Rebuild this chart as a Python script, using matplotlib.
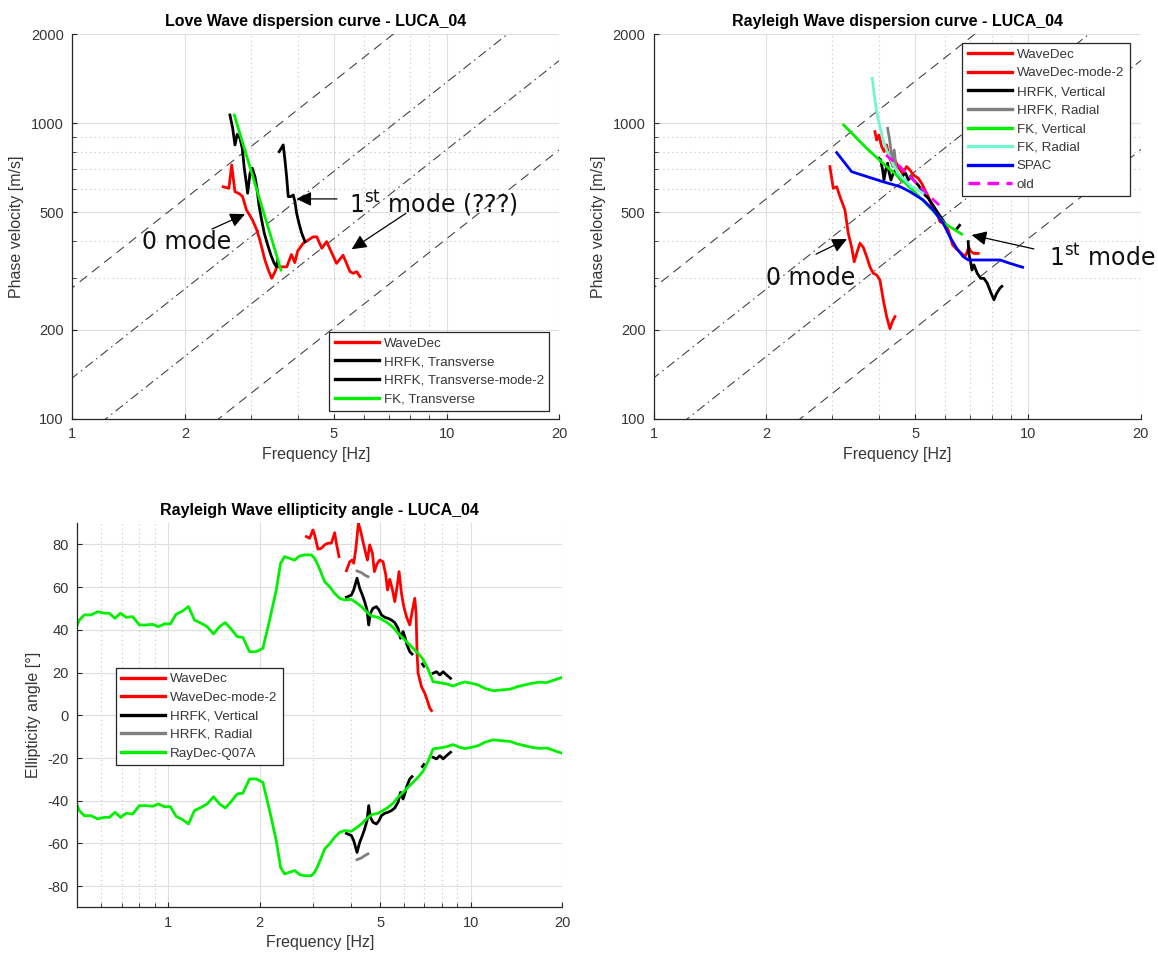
import numpy as np
import matplotlib
matplotlib.use("Agg")
import matplotlib.pyplot as plt
from matplotlib.ticker import FixedLocator, FixedFormatter, NullFormatter, NullLocator

plt.rcParams['font.family'] = ['Liberation Sans', 'DejaVu Sans']
plt.rcParams['mathtext.fontset'] = 'dejavusans'

# ---------------- Love wave dispersion (LUCA_04) ----------------
love_wavedec_f = [2.53, 2.58, 2.62, 2.665, 2.72, 2.80, 2.85, 2.92, 3.03, 3.11, 3.17, 3.27, 3.34,
                  3.41, 3.48, 3.52, 3.74, 3.85, 3.93, 4.00, 4.14, 4.40, 4.50, 4.64, 4.78, 5.08,
                  5.29, 5.52, 5.63, 5.75, 5.87]
love_wavedec_v = [610, 606, 603, 723, 587, 577, 565, 509, 471, 436, 403, 345, 319,
                  299, 315, 327, 327, 360, 338, 370, 393, 413, 413, 378, 398, 336,
                  358, 315, 311, 315, 303]

love_hrfk_f = [2.637, 2.682, 2.720, 2.758, 2.805, 2.845, 2.880, 2.922, 2.941, 2.983, 3.025,
               3.076, 3.114, 3.152, 3.205, 3.257, 3.326, 3.394, 3.463, 3.516, 3.537]
love_hrfk_v = [1067, 962, 845, 918, 890, 823, 705, 618, 580, 677, 705,
               660, 603, 529, 471, 425, 388, 358, 336, 327, 345]

love_hrfk2_f = [3.571, 3.660, 3.699, 3.737, 3.775, 3.831, 3.893, 3.934, 3.975, 4.032, 4.101, 4.184]
love_hrfk2_v = [802, 845, 751, 660, 565, 565, 572, 543, 496, 459, 425, 398]

love_fk_f = [2.709, 2.80, 2.95, 3.10, 3.30, 3.45, 3.609]
love_fk_v = [1067, 928, 745, 605, 465, 386, 319]

# ---------------- Rayleigh wave dispersion (LUCA_04) ----------------
ray_wavedec_f = [2.954, 3.016, 3.080, 3.143, 3.241, 3.307, 3.377, 3.431, 3.483, 3.554, 3.627,
                 3.704, 3.780, 3.857, 3.938, 4.019, 4.102, 4.188, 4.274, 4.335, 4.408]
ray_wavedec_v = [714, 603, 610, 565, 509, 425, 381, 340, 363, 393, 381,
                 354, 327, 311, 307, 295, 253, 222, 202, 213, 222]

ray_wavedec2_f = [3.897, 3.938, 3.995, 4.062, 4.126, 4.188, 4.248, 4.319, 4.408, 4.498, 4.611,
                  4.737, 4.835, 4.934, 5.087, 5.195, 5.301, 5.41, 5.524, 5.637, 5.753, 5.813,
                  5.933, 6.118, 6.209, 6.285, 6.442, 6.643, 6.779, 6.876, 6.94, 7.034, 7.165, 7.359]
ray_wavedec2_v = [937, 878, 913, 834, 802, 845, 771, 733, 751, 714, 677,
                  714, 695, 669, 652, 627, 595, 565, 529, 509, 483, 465,
                  459, 436, 408, 388, 375, 363, 354, 368, 381, 368, 363, 363]

ray_hrfk_v_f = [3.995, 4.037, 4.087, 4.12, 4.163, 4.214, 4.248, 4.3, 4.362, 4.427, 4.498, 4.574,
                4.638, 4.709, 4.785, 4.864, 4.943, 5.087, 5.195, 5.301, 5.41, 5.524, 5.637, 5.753,
                5.875, 5.995, np.nan, 6.45, 6.56, np.nan, 6.918, 6.94, 7.021, 7.078, 7.165, 7.311,
                7.466, 7.619, 7.776, 7.94, 8.104, 8.24, 8.41, 8.51]
ray_hrfk_v_v = [761, 751, 695, 643, 695, 733, 686, 643, 677, 695, 660, 643,
                669, 677, 643, 660, 643, 618, 595, 572, 558, 537, 516, 496,
                477, 459, np.nan, 440, 452, np.nan, 398, 363, 340, 319, 332, 311,
                299, 299, 288, 269, 253, 266, 277, 281]

ray_hrfk_r_f = [4.214, 4.266, 4.319, 4.353, 4.388, 4.435, 4.498, 4.611]
ray_hrfk_r_v = [962, 878, 781, 714, 812, 714, 660, 634]

ray_fk_v_f = [3.216, 3.704, 4.188, 4.546, 5.037, 5.579, 5.97, 6.643]
ray_fk_v_v = [987, 823, 714, 653, 577, 505, 459, 422]

ray_fk_r_f = [3.833, 3.897, 3.963, 4.019, 4.102, 4.188, 4.319, 4.498, 4.688, 4.886, 4.985, 5.246]
ray_fk_r_v = [1420, 1199, 1053, 974, 878, 812, 742, 677, 643, 610, 603, 580]

ray_spac_f = [3.08, 3.377, 4.102, 4.546, 4.835, 5.246, 5.579, 5.933, 6.181, 6.442, 6.709,
              6.918, 8.41, 8.942, 9.667]
ray_spac_v = [796, 686, 634, 611, 587, 550, 509, 459, 413, 378, 354, 345, 345, 336, 326]

ray_old_f = [4.171, 4.546, 4.934, 5.356, 5.933]
ray_old_v = [781, 714, 643, 580, 513]

# constant-wavelength guide lines [m]
guide_wavelengths = [278, 137.7, 81.5, 40.7]
guide_styles = ['dash', 'dashdot', 'dashdot', 'dash']

# ---------------- Rayleigh wave ellipticity angle (LUCA_04) ----------------
raydec_f = [0.50, 0.508, 0.527, 0.555, 0.584, 0.614, 0.638, 0.666, 0.694, 0.725, 0.762, 0.802,
            0.844, 0.887, 0.927, 0.970, 1.015, 1.060, 1.115, 1.165, 1.219, 1.283, 1.343, 1.409,
            1.475, 1.540, 1.612, 1.688, 1.761, 1.853, 1.950, 2.051, 2.159, 2.271, 2.347, 2.419,
            2.513, 2.611, 2.713, 2.818, 2.965, 3.041, 3.118, 3.200, 3.281, 3.408, 3.541, 3.678,
            3.821, 4.020, 4.177, 4.339, 4.508, 4.683, 4.924, 5.115, 5.314, 5.521, 5.734, 5.957,
            6.188, 6.429, 6.679, 6.938, 7.207, 7.487, 7.879, 8.291, 8.718, 9.176, 9.532, 10.03,
            10.55, 11.10, 11.83, 12.61, 13.43, 14.19, 15.01, 15.88, 16.79, 17.76, 18.79, 20.0]
raydec_deg = [42.3, 44.6, 47.0, 47.0, 48.5, 47.8, 47.8, 45.4, 47.8, 45.9, 46.2, 42.3,
              42.3, 42.6, 41.5, 42.8, 42.8, 47.3, 48.9, 50.9, 44.6, 43.1, 41.5, 38.1,
              41.5, 43.4, 40.4, 36.8, 36.5, 29.8, 29.8, 31.4, 44.6, 58.7, 71.2, 74.3,
              73.5, 72.7, 74.6, 75.1, 75.1, 73.5, 70.4, 66.5, 62.6, 60.2, 57.1, 54.8,
              54.0, 54.3, 52.7, 50.9, 48.5, 46.5, 45.9, 44.6, 43.1, 41.2, 38.4, 36.1,
              33.7, 31.4, 29.0, 26.2, 21.5, 15.7, 15.3, 14.7, 13.7, 15.0, 15.6, 15.0,
              14.2, 12.6, 11.5, 11.9, 12.2, 13.4, 14.2, 15.0, 15.5, 15.3, 16.5, 17.8]

ell_hrfk_v_f = [3.871, 4.020, 4.093, 4.197, 4.283, 4.372, 4.449, 4.529, 4.587, 4.647, 4.740,
                4.865, 4.962, 5.053, 5.182, 5.314, 5.454, 5.593, 5.734, 5.841, 5.957, 6.035,
                6.141, 6.268, 6.379, np.nan, 6.90, 6.98, np.nan, 7.487, 7.684, 7.879, 8.08,
                8.291, 8.55]
ell_hrfk_v_deg = [55.3, 56.3, 58.7, 64.2, 59.5, 56.3, 53.2, 49.3, 42.3, 47.8, 50.1,
                  50.9, 49.3, 47.0, 45.9, 45.4, 44.6, 43.4, 40.7, 36.1, 39.2, 36.8,
                  32.9, 29.8, 28.7, np.nan, 24.0, 23.0, np.nan, 19.7, 20.4, 18.9, 20.4,
                  18.9, 17.3]

ell_hrfk_r_f = [4.197, 4.339, 4.449, 4.562]
ell_hrfk_r_deg = [67.6, 66.8, 65.7, 64.9]

ell_wavedec_f = [2.855, 2.927, 3.001, 3.041, 3.118, 3.200, 3.281, 3.365, 3.453, 3.541, 3.587, 3.659]
ell_wavedec_deg = [83.7, 82.9, 86.8, 84.4, 77.8, 78.2, 79.8, 80.6, 80.6, 85.5, 80.6, 74.3]

ell_wavedec2_f = [3.871, 3.970, 4.04, 4.093, 4.156, 4.241, 4.306, 4.392, 4.484, 4.542, 4.622,
                  4.718, 4.790, 4.887, 4.989, 5.115, 5.224, 5.292, 5.385, 5.496, 5.593, 5.691,
                  5.779, 5.886, 5.990, 6.113, 6.268, 6.399, 6.512, 6.577, 6.627, 6.679, 6.853,
                  7.027, 7.153, 7.302, 7.396]
ell_wavedec2_deg = [67.7, 71.9, 72.7, 71.2, 77.4, 89.9, 86.8, 81.3, 75.9, 72.7, 79.8,
                    75.9, 67.3, 70.9, 72.7, 71.9, 65.7, 58.7, 63.7, 58.7, 53.2, 60.2,
                    67.3, 57.1, 50.9, 46.2, 42.3, 49.3, 54.8, 47.8, 29.0, 19.7, 13.4,
                    10.3, 7.2, 3.3, 2.2]

freq_ticks = [1, 2, 5, 10, 20]
vel_ticks = [100, 200, 500, 1000, 2000]
angle_ticks = [-80, -60, -40, -20, 0, 20, 40, 60, 80]

# ---------------- styling ----------------
AX_COLOR = '#262626'
TXT_COLOR = '#363636'
RED = '#ff0000'
BLACK = '#000000'
GRAY = '#808080'
GREEN = '#00f000'
AQUA = '#73f5d2'
BLUE = '#0000ff'
MAGENTA = '#ff00ff'
LW = 2.0


def style_axes(ax, xlim, xminor, ylim, yticks, yminor=None, ylog=True):
    ax.set_xscale('log')
    ax.set_xlim(*xlim)
    ax.xaxis.set_major_locator(FixedLocator(freq_ticks))
    ax.xaxis.set_major_formatter(FixedFormatter([f'{t:g}' for t in freq_ticks]))
    ax.xaxis.set_minor_locator(FixedLocator(xminor))
    ax.xaxis.set_minor_formatter(NullFormatter())
    if ylog:
        ax.set_yscale('log')
    ax.set_ylim(*ylim)
    ax.yaxis.set_major_locator(FixedLocator(yticks))
    ax.yaxis.set_major_formatter(FixedFormatter([f'{t:g}' for t in yticks]))
    if yminor:
        ax.yaxis.set_minor_locator(FixedLocator(yminor))
        ax.yaxis.set_minor_formatter(NullFormatter())
    else:
        ax.yaxis.set_minor_locator(NullLocator())
    ax.grid(which='major', color='#dedede', lw=0.8, ls='-')
    ax.grid(which='minor', color='#c2c2c2', lw=0.8, ls=(0, (1, 3)))
    ax.set_axisbelow(True)
    for s in ('top', 'right'):
        ax.spines[s].set_visible(False)
    for s in ('left', 'bottom'):
        ax.spines[s].set_color(AX_COLOR)
        ax.spines[s].set_linewidth(0.9)
    ax.tick_params(which='both', direction='in', color=AX_COLOR, labelcolor=TXT_COLOR,
                   labelsize=10.5, pad=6)
    ax.tick_params(which='major', length=3.6, width=0.8)
    ax.tick_params(which='minor', length=3.0, width=0.6)


def add_guides(ax):
    f = np.array([0.9, 25.0])
    for lam, st in zip(guide_wavelengths, guide_styles):
        dashes = (9, 6) if st == 'dash' else (9, 4, 1.5, 4)
        ax.plot(f, lam * f, color='#3a3a3a', lw=0.75, dashes=dashes, zorder=1.5)


def add_legend(ax, **kw):
    leg = ax.legend(fontsize=9.6, handlelength=3.3, handletextpad=0.38, labelspacing=0.47,
                    borderpad=0.4, borderaxespad=0, frameon=True, fancybox=False,
                    edgecolor=AX_COLOR, framealpha=1, **kw)
    leg.get_frame().set_linewidth(0.9)
    for t in leg.get_texts():
        t.set_color(TXT_COLOR)
    for h in leg.get_lines():
        h.set_linewidth(2.4)
    return leg


def arrow(ax, tip, tail):
    ax.annotate('', xy=tip, xytext=tail,
                arrowprops=dict(arrowstyle='-|>,head_length=0.5,head_width=0.24',
                                color='black', lw=0.9, mutation_scale=18,
                                shrinkA=0, shrinkB=0))


ANNOT = dict(fontsize=17, family='DejaVu Sans', color='#111111')

fig = plt.figure(figsize=(11.58, 9.55), dpi=100)
ax_love = fig.add_axes([0.06244, 0.56126, 0.42055, 0.40283])
ax_ray = fig.add_axes([0.5646, 0.56126, 0.42055, 0.40283])
ax_ell = fig.add_axes([0.06675, 0.04974, 0.41883, 0.40251])

# ---- Love wave panel ----
add_guides(ax_love)
ax_love.plot(love_wavedec_f, love_wavedec_v, color=RED, lw=LW, label='WaveDec')
ax_love.plot(love_hrfk_f, love_hrfk_v, color=BLACK, lw=LW, label='HRFK, Transverse')
ax_love.plot(love_hrfk2_f, love_hrfk2_v, color=BLACK, lw=LW, label='HRFK, Transverse-mode-2')
ax_love.plot(love_fk_f, love_fk_v, color=GREEN, lw=LW, label='FK, Transverse')
style_axes(ax_love, (1, 20), [3, 4, 6, 7, 8, 9], (100, 2000), vel_ticks,
           [300, 400, 600, 700, 800, 900])
ax_love.set_title('Love Wave dispersion curve - LUCA_04', fontsize=11.5, fontweight='bold', pad=6)
ax_love.set_xlabel('Frequency [Hz]', fontsize=11.5, color=TXT_COLOR)
ax_love.set_ylabel('Phase velocity [m/s]', fontsize=11.5, color=TXT_COLOR, labelpad=5)
add_legend(ax_love, loc='lower right', bbox_to_anchor=(0.9795, 0.0216))
ax_love.text(2.025, 397, '0 mode', ha='center', va='center', **ANNOT)
ax_love.text(5.48, 537, r'1$^{\mathrm{st}}$ mode (???)', ha='left', va='center', **ANNOT)
arrow(ax_love, (2.893, 493), (2.361, 439))
arrow(ax_love, (3.971, 555), (5.093, 555))
arrow(ax_love, (5.576, 375), (7.785, 496))

# ---- Rayleigh wave panel ----
add_guides(ax_ray)
ax_ray.plot(ray_wavedec_f, ray_wavedec_v, color=RED, lw=LW, label='WaveDec')
ax_ray.plot(ray_wavedec2_f, ray_wavedec2_v, color=RED, lw=LW, label='WaveDec-mode-2')
ax_ray.plot(ray_hrfk_v_f, ray_hrfk_v_v, color=BLACK, lw=LW, label='HRFK, Vertical')
ax_ray.plot(ray_hrfk_r_f, ray_hrfk_r_v, color=GRAY, lw=LW, label='HRFK, Radial')
ax_ray.plot(ray_fk_v_f, ray_fk_v_v, color=GREEN, lw=LW, label='FK, Vertical')
ax_ray.plot(ray_fk_r_f, ray_fk_r_v, color=AQUA, lw=LW, label='FK, Radial')
ax_ray.plot(ray_spac_f, ray_spac_v, color=BLUE, lw=LW, label='SPAC')
ax_ray.plot(ray_old_f, ray_old_v, color=MAGENTA, lw=LW, dashes=(3.5, 2.2), label='old')
style_axes(ax_ray, (1, 20), [3, 4, 6, 7, 8, 9], (100, 2000), vel_ticks,
           [300, 400, 600, 700, 800, 900])
ax_ray.set_title('Rayleigh Wave dispersion curve - LUCA_04', fontsize=11.5, fontweight='bold', pad=6)
ax_ray.set_xlabel('Frequency [Hz]', fontsize=11.5, color=TXT_COLOR)
ax_ray.set_ylabel('Phase velocity [m/s]', fontsize=11.5, color=TXT_COLOR, labelpad=5)
add_legend(ax_ray, loc='upper right', bbox_to_anchor=(0.977, 0.977))
ax_ray.text(2.63, 300, '0 mode', ha='center', va='center', **ANNOT)
ax_ray.text(11.36, 350, r'1$^{\mathrm{st}}$ mode', ha='left', va='center', **ANNOT)
arrow(ax_ray, (3.281, 406), (2.713, 361))
arrow(ax_ray, (7.066, 419), (10.36, 376))

# ---- Ellipticity panel ----
ax_ell.plot(ell_wavedec_f, ell_wavedec_deg, color=RED, lw=LW, label='WaveDec')
ax_ell.plot(ell_wavedec2_f, ell_wavedec2_deg, color=RED, lw=LW, label='WaveDec-mode-2')
ax_ell.plot(ell_hrfk_v_f, ell_hrfk_v_deg, color=BLACK, lw=LW, label='HRFK, Vertical')
ax_ell.plot(ell_hrfk_v_f, -np.array(ell_hrfk_v_deg), color=BLACK, lw=LW, label='_nolegend_')
ax_ell.plot(ell_hrfk_r_f, ell_hrfk_r_deg, color=GRAY, lw=LW, label='HRFK, Radial')
ax_ell.plot(ell_hrfk_r_f, -np.array(ell_hrfk_r_deg), color=GRAY, lw=LW, label='_nolegend_')
ax_ell.plot(raydec_f, raydec_deg, color=GREEN, lw=LW, label='RayDec-Q07A')
ax_ell.plot(raydec_f, -np.array(raydec_deg), color=GREEN, lw=LW, label='_nolegend_')
style_axes(ax_ell, (0.5, 20), [0.6, 0.7, 0.8, 0.9, 3, 4, 6, 7, 8, 9], (-90, 90),
           angle_ticks, None, ylog=False)
ax_ell.set_title('Rayleigh Wave ellipticity angle - LUCA_04', fontsize=11.5, fontweight='bold', pad=6)
ax_ell.set_xlabel('Frequency [Hz]', fontsize=11.5, color=TXT_COLOR)
ax_ell.set_ylabel('Ellipticity angle [°]', fontsize=11.5, color=TXT_COLOR, labelpad=4.5)
add_legend(ax_ell, loc='upper left', bbox_to_anchor=(0.0788, 0.6243))

fig.savefig('out.png', dpi=100)
